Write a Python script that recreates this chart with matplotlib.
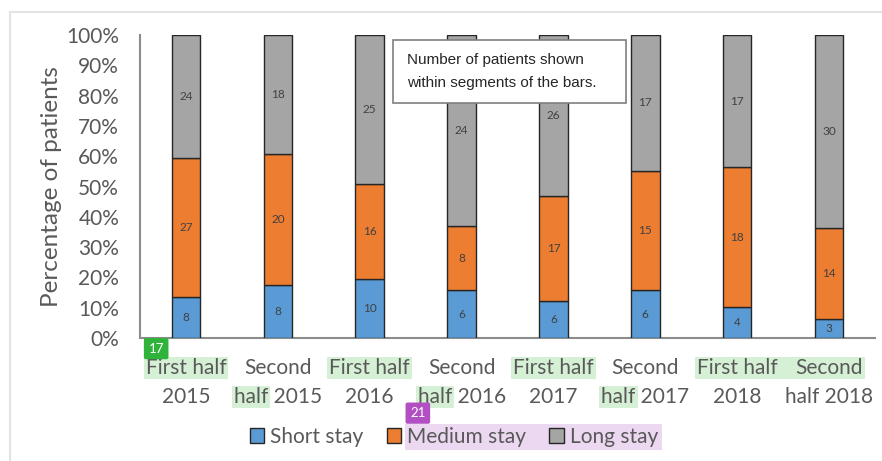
import matplotlib
matplotlib.use('Agg')
import matplotlib.pyplot as plt
from matplotlib.patches import Rectangle, Patch
import numpy as np

plt.rcParams['font.family'] = ['Lato', 'DejaVu Sans']

periods_top = ['First half', 'Second', 'First half', 'Second', 'First half', 'Second', 'First half', 'Second']
periods_bot = ['2015', 'half 2015', '2016', 'half 2016', '2017', 'half 2017', '2018', 'half 2018']
short_stay = [8, 8, 10, 6, 6, 6, 4, 3]
medium_stay = [27, 20, 16, 8, 17, 15, 18, 14]
long_stay = [24, 18, 25, 24, 26, 17, 17, 30]

counts = np.array([short_stay, medium_stay, long_stay], dtype=float)
pct = counts / counts.sum(axis=0) * 100
names = ['Short stay', 'Medium stay', 'Long stay']
colors = ['#5B9BD5', '#ED7D31', '#A5A5A5']
grey = '#595959'
fs = 15

fig = plt.figure(figsize=(8.82, 4.61), dpi=100)
ax = fig.add_axes([140 / 882, 1 - 338 / 461, 735 / 882, 303 / 461])

# light frame around the chart area
fig.add_artist(Rectangle((10 / 882, -0.1), 1.1, 1 - 12 / 461 + 0.1, transform=fig.transFigure,
                         fill=False, edgecolor='#e3e3e3', linewidth=1.5))

x = np.arange(len(short_stay))
bottom = np.zeros(len(x))
for i in range(3):
    ax.bar(x, pct[i], 0.31, bottom=bottom, color=colors[i], edgecolor='#262626',
           linewidth=1.0, label=names[i], zorder=3)
    for xi, b, h, n in zip(x, bottom, pct[i], counts[i]):
        ax.text(xi, b + h / 2, f'{int(n)}', ha='center', va='center', fontsize=8.5,
                color='#404040', zorder=4)
    bottom += pct[i]

ax.set_xlim(-0.5, 7.5)
ax.set_ylim(0, 100)
ax.set_yticks(range(0, 101, 10))
ax.set_yticklabels([f'{v}%' for v in range(0, 101, 10)], fontsize=fs, color=grey)
ax.set_xticks([])
ax.tick_params(axis='y', length=0, pad=15)
for s in ['top', 'right']:
    ax.spines[s].set_visible(False)
for s in ['left', 'bottom']:
    ax.spines[s].set_color('#8c8c8c')
    ax.spines[s].set_linewidth(1.5)
ax.set_ylabel('Percentage of patients', fontsize=17.5, color=grey, labelpad=3)

# two-line category labels
xt = ax.get_xaxis_transform()
top_txt, bot_txt = [], []
for xi, a, b in zip(x, periods_top, periods_bot):
    top_txt.append(ax.text(xi, -0.10, a, ha='center', va='center', fontsize=fs,
                           color=grey, transform=xt, zorder=5))
    bot_txt.append(ax.text(xi, -0.195, b, ha='center', va='center', fontsize=fs,
                           color=grey, transform=xt, zorder=5))

# note box
ax.add_patch(Rectangle((0.344, 0.776), 0.317, 0.207, transform=ax.transAxes, clip_on=False,
                       facecolor='white', edgecolor='#7f7f7f', linewidth=1.2, zorder=6))
ax.text(0.363, 0.88, 'Number of patients shown\nwithin segments of the bars.',
        transform=ax.transAxes, ha='left', va='center', fontsize=11, linespacing=1.8,
        family='Liberation Sans', color='#262626', zorder=7)

handles = [Patch(facecolor=c, edgecolor='#262626', linewidth=1.0) for c in colors]
leg = fig.legend(handles, names, loc='center', bbox_to_anchor=(454 / 882, 1 - 437 / 461),
                 ncol=3, frameon=False, fontsize=fs, handlelength=0.7, handleheight=0.7,
                 handletextpad=0.3, columnspacing=1.1, labelcolor=grey)

# highlight marks behind labels
fig.canvas.draw()
r = fig.canvas.get_renderer()
hl_green = '#d5f0d5'

def add_box(x0, y0, x1, y1, color, parent):
    parent.add_artist(Rectangle((x0, y0), x1 - x0, y1 - y0, transform=None, clip_on=False,
                                facecolor=color, edgecolor='none', zorder=1))

def word_width(word):
    tmp = ax.text(0, 0, word, fontsize=fs, transform=None)
    w = tmp.get_window_extent(r).width
    tmp.remove()
    return w

for i in [0, 2, 4]:
    e = top_txt[i].get_window_extent(r)
    add_box(e.x0 - 2, e.y0 - 1, e.x1 + 2, e.y1 + 1, hl_green, ax)
e6 = top_txt[6].get_window_extent(r)
e7 = top_txt[7].get_window_extent(r)
add_box(e6.x0 - 2, e6.y0 - 1, e7.x1 + 2, e7.y1 + 1, hl_green, ax)
for i in [1, 3, 5]:
    e = bot_txt[i].get_window_extent(r)
    w = word_width('half')
    add_box(e.x0 - 2, e.y0 - 1, e.x0 + w + 2, e.y1 + 1, hl_green, ax)

t1 = leg.get_texts()[1].get_window_extent(r)
t2 = leg.get_texts()[2].get_window_extent(r)
add_box(t1.x0 - 2, t1.y0 - 3, t2.x1 + 4, t1.y1 + 3, '#ecd8f0', fig)

ax.text(0.022, -0.035, '17', transform=ax.transAxes, ha='center', va='center', fontsize=9.5,
        color='white', zorder=7,
        bbox=dict(boxstyle='round,pad=0.35,rounding_size=0.15', facecolor='#2fb33a', edgecolor='none'))
ax.text(0.378, -0.248, '21', transform=ax.transAxes, ha='center', va='center', fontsize=9.5,
        color='white', zorder=7,
        bbox=dict(boxstyle='round,pad=0.35,rounding_size=0.15', facecolor='#b24fc2', edgecolor='none'))

fig.savefig('out.png', dpi=100)
